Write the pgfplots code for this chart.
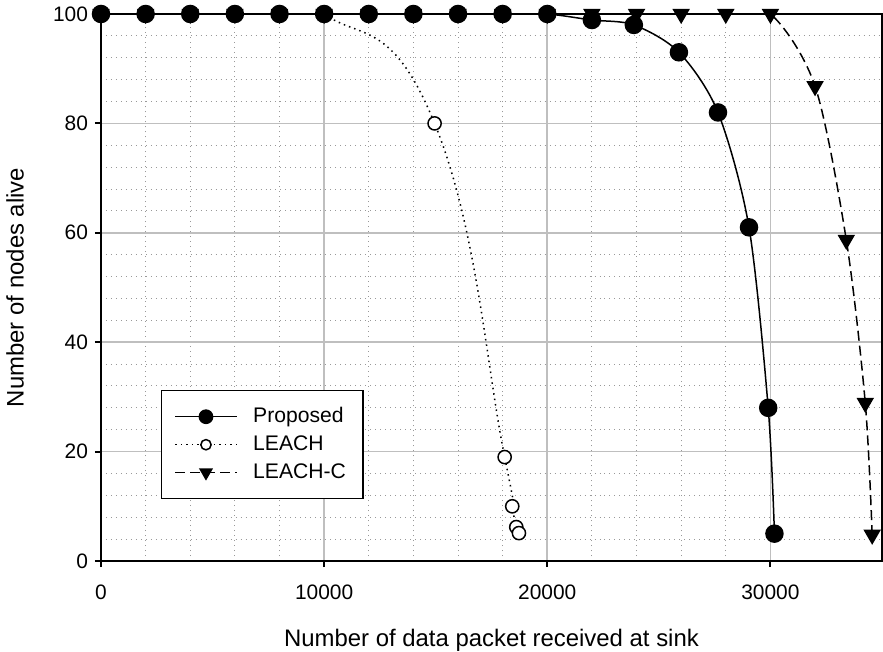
\documentclass[border=0pt]{standalone}
\usepackage{pgfplots}
\pgfplotsset{compat=1.18}
\usepackage{fontspec}
\setmainfont{Liberation Sans}
\begin{document}
\begin{tikzpicture}
\useasboundingbox (-50.5bp,-45.5bp) rectangle (391bp,280.5bp);
\begin{axis}[
 at={(0,0)}, anchor=south west,
 scale only axis, width=390.5bp, height=273.5bp,
 xmin=0, xmax=35000, ymin=0, ymax=100,
 xtick={0,10000,20000,30000}, ytick={0,20,40,60,80,100},
 minor x tick num=4, minor y tick num=4,
 grid=both,
 major grid style={draw=black!25, line width=0.8bp},
 minor grid style={draw=black!40, line width=0.5bp, dotted},
 tick pos=left, tick align=outside,
 major tick length=3bp, minor tick length=0pt,
 axis line style={line width=1bp},
 every tick/.style={black, line width=1bp},
 scaled ticks=false,
 /pgf/number format/1000 sep={},
 /pgf/number format/assume math mode=true,
 tick label style={font=\fontsize{10.5}{12}\selectfont},
 xticklabel style={yshift=-5.5bp},
 every axis x label/.style={at={(axis description cs:0.5,-0.157)}, anchor=base},
 every axis y label/.style={at={(axis description cs:-0.11,0.5)}, rotate=90, anchor=center},
 label style={font=\fontsize{12}{14}\selectfont},
 xlabel={Number of data packet received at sink},
 ylabel={Number of nodes alive},
 clip mode=individual,
 reverse legend,
 legend cell align=left,
 legend style={at={(0.0768,0.1133)}, anchor=south west, draw=black, line width=0.75bp,
   fill=white, font=\fontsize{10.6}{12}\selectfont, inner xsep=6.5bp, inner ysep=6.5bp,
   row sep=1bp,
   /tikz/every odd column/.append style={column sep=6bp}},
 legend image code/.code={\draw[mark repeat=2,mark phase=2,#1,every mark/.append style={scale=0.78}] plot coordinates {(0bp,0bp) (15.25bp,0bp) (30.5bp,0bp)};},
]
\addplot[black, line width=0.75bp, dash pattern=on 5bp off 2.5bp, smooth,
  mark=triangle*, mark size=4.3bp, mark options={solid, fill=black, rotate=180}]
  coordinates {(0,100)(2000,100)(4000,100)(6000,100)(8000,100)(10000,100)(12000,100)(14000,100)(16000,100)(18000,100)(20000,100)(22000,100)(24000,100)(26000,100)(28000,100)(30000,100)(32000,86.8)(33400,58.7)(34250,28.9)(34560,4.8)};
\addlegendentry{LEACH-C}
\addplot[black, line width=0.75bp, dotted, smooth, tension=0.85,
  mark=*, mark size=3.3bp, mark options={solid, fill=white}]
  coordinates {(0,100)(2000,100)(4000,100)(6000,100)(8000,100)(10000,100)(14950,80)(18090,19)(18430,10)(18610,6.2)(18730,5.1)};
\addlegendentry{LEACH}
\addplot[black, line width=0.75bp, smooth,
  mark=*, mark size=4.25bp, mark options={solid, fill=black}]
  coordinates {(0,100)(2000,100)(4000,100)(6000,100)(8000,100)(10000,100)(12000,100)(14000,100)(16000,100)(18000,100)(20000,100)(22000,98.9)(23880,98)(25900,93)(27650,82)(29040,61)(29900,28)(30180,5)};
\addlegendentry{Proposed}
\end{axis}
\end{tikzpicture}
\end{document}
